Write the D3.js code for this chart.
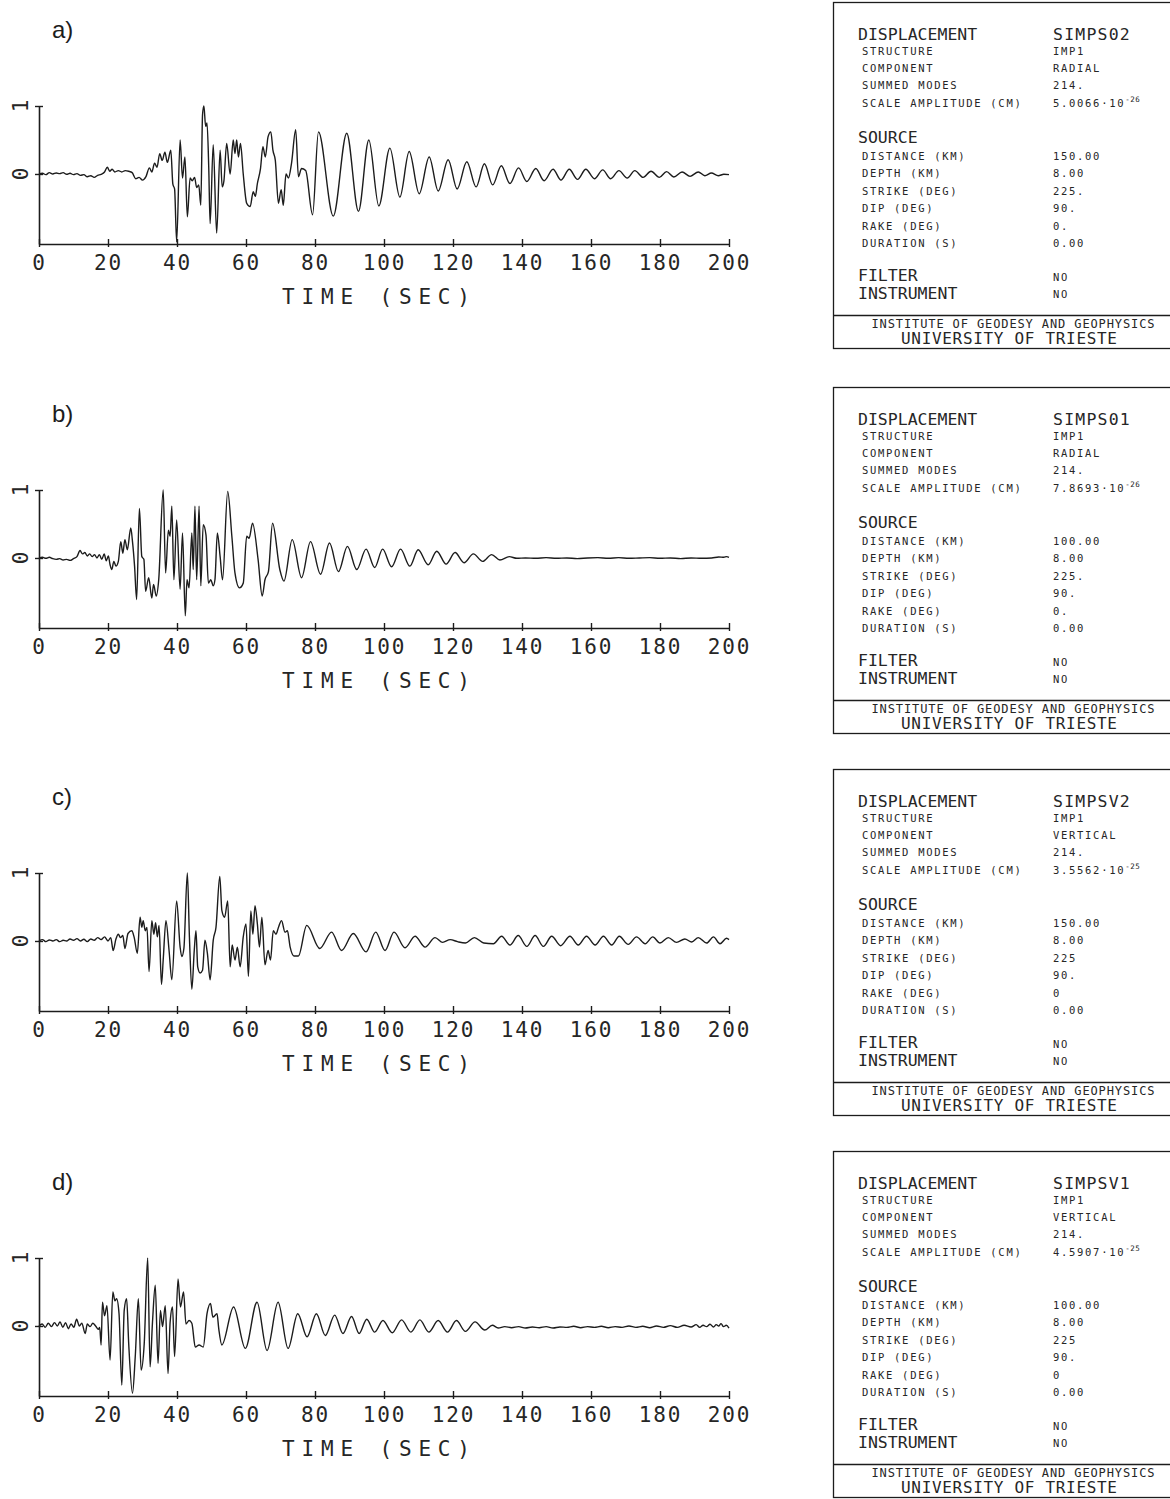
<!DOCTYPE html>
<html>
<head>
<meta charset="utf-8">
<script src="https://cdn.jsdelivr.net/npm/d3@7/dist/d3.min.js"></script>
<style>
  html, body { margin: 0; padding: 0; background: #fff; }
  svg { display: block; }
</style>
</head>
<body>
<div id="chart"></div>
<script>
// time axis (s) and panel labels
const xTicks = [0, 20, 40, 60, 80, 100, 120, 140, 160, 180, 200];
const yTicks = [0, 1];
const panelLabels = ['a)', 'b)', 'c)', 'd)'];

// seismogram turning points: [time (s), normalised amplitude]
const traceA = [
  [0,0],[1,0.01],[2,-0.01],[3,0.02],[4,0],[5,0.015],[6,0.005],[7,0.02],[8,-0.005],[9,0.01],
  [10,-0.01],[11,0.005],[12,-0.02],[13,-0.01],[14,-0.04],[15,-0.025],[16,-0.05],[17,-0.02],[18,-0.005],[19,0.03],
  [19.8,0.1],[20.5,0.04],[21.2,0.07],[22,0.03],[23,0.05],[24,0.03],[25,0.05],[26,0.04],[27,0.02],[28,-0.07],
  [29,-0.05],[30,-0.09],[31,-0.04],[32,0.09],[32.7,0.03],[33.5,0.16],[34.2,0.1],[35,0.3],[35.7,0.2],[36.5,0.32],
  [37.2,0.17],[38.2,0.35],[38.8,-0.15],[39.3,-0.22],[39.9,-1.0],[40.9,0.5],[41.6,-0.06],[42.3,0.25],[43,-0.63],[43.8,-0.06],
  [44.4,-0.1],[45.1,-0.05],[45.7,-0.2],[46.3,-0.16],[46.9,-0.46],[47.4,0.87],[47.8,1.0],[48.3,0.7],[48.7,0.75],[49.2,0.1],
  [49.6,-0.73],[50.5,0.43],[51.5,-0.87],[52.5,0.35],[53.1,-0.19],[53.6,-0.1],[54.4,0.45],[55.4,0.0],[56.3,0.5],[56.8,0.3],
  [57.3,0.5],[57.8,0.25],[58.4,0.45],[59.2,0.0],[60.2,-0.43],[61.2,-0.48],[62.1,-0.26],[62.7,-0.33],[63.3,-0.14],[64.2,0.08],
  [64.9,0.4],[65.6,0.25],[66.4,0.55],[67.2,0.62],[67.8,0.35],[68.5,0.2],[69.4,-0.43],[70.2,-0.23],[70.8,-0.46],[71.6,0.0],
  [72.3,-0.06],[73.2,0.16],[74.4,0.65],[75.2,-0.04],[76.1,0.08],[77.3,0.05],[79.3,-0.6],[81.0,0.62],[85.3,-0.62],[89.2,0.6],
  [92.6,-0.55],[95.6,0.5],[98.5,-0.47],[101.7,0.38],[104.6,-0.34],[107.3,0.33],[110.2,-0.29],[113.1,0.25],[115.7,-0.25],[118.6,0.21],
  [121.2,-0.22],[124.0,0.18],[126.7,-0.19],[129.1,0.15],[131.5,-0.16],[134.0,0.12],[136.5,-0.14],[139.0,0.09],[141.4,-0.11],[144.0,0.08],
  [146.4,-0.1],[149.0,0.07],[151.3,-0.09],[153.7,0.07],[156.1,-0.08],[158.5,0.07],[161.0,-0.07],[163.4,0.06],[165.7,-0.07],[168.1,0.05],
  [170.5,-0.06],[172.7,0.05],[175.1,-0.05],[177.4,0.04],[179.8,-0.05],[181.9,0.035],[184.0,-0.045],[186.4,0.03],[188.7,-0.035],[191.1,0.03],
  [193.0,-0.025],[194.9,0.015],[196.9,-0.025],[198.5,-0.005],[200,-0.01]
];

const traceB = [
  [0,0],[1,0.01],[2,-0.005],[3,0.01],[4,-0.01],[5,-0.02],[6,-0.01],[7,-0.03],[8,-0.02],[9,-0.035],
  [10,-0.01],[11,0.02],[11.9,0.11],[12.6,0.06],[13.3,0.08],[14,0.03],[14.7,0.06],[15.4,0.02],[16.1,0.05],[16.8,0.0],
  [17.5,0.05],[18.2,-0.02],[18.9,0.06],[19.5,-0.04],[20.1,0.03],[20.6,-0.1],[21.1,-0.17],[21.7,-0.05],[22.3,-0.12],[23,-0.05],
  [23.7,0.24],[24.3,0.07],[24.9,0.27],[25.6,0.12],[26.6,0.44],[27.1,0.24],[27.7,-0.12],[28.3,-0.61],[29.1,0.73],[29.8,0.02],
  [30.4,-0.02],[30.9,-0.49],[31.8,-0.29],[32.7,-0.59],[33.2,-0.39],[34.0,-0.56],[34.7,-0.32],[36.0,1.0],[36.7,-0.22],[37.5,0.41],
  [38.0,0.32],[38.5,0.76],[39.1,-0.32],[39.9,0.56],[40.9,-0.46],[41.6,0.37],[42.4,-0.85],[42.9,-0.32],[43.5,-0.44],[44.3,0.37],
  [44.7,-0.17],[45.2,0.76],[45.7,-0.32],[46.4,0.76],[46.9,-0.41],[47.6,0.49],[48.4,0.34],[49.1,-0.37],[49.8,-0.32],[50.5,-0.41],
  [51.0,-0.32],[51.7,0.37],[52.5,0.02],[53.2,-0.32],[54.7,0.98],[55.9,0.32],[56.8,-0.22],[58.1,-0.44],[59.2,-0.37],[60.2,0.32],
  [60.9,0.29],[61.9,0.51],[63.5,-0.02],[64.7,-0.56],[65.5,-0.32],[66.5,-0.2],[67.7,0.51],[69.8,-0.17],[71.0,-0.34],[73.4,0.27],
  [76.1,-0.29],[78.7,0.24],[81.6,-0.24],[84.2,0.22],[86.8,-0.2],[89.4,0.17],[92.1,-0.17],[94.8,0.13],[97.3,-0.14],[99.6,0.13],
  [102.2,-0.13],[104.8,0.13],[107.5,-0.12],[109.9,0.12],[112.8,-0.1],[115.3,0.1],[118.0,-0.09],[120.6,0.08],[123.2,-0.07],[125.9,0.06],
  [128.6,-0.05],[131.2,0.05],[133.6,-0.03],[136.3,0.02],[138.5,-0.005],[141,0.0],[144,-0.005],[147,0.005],[150,-0.005],[153,0.0],
  [156,-0.01],[159,0.0],[162,0.005],[165,-0.005],[168,0.005],[171,-0.005],[174,0.0],[177,0.005],[180,-0.005],[183,0.0],
  [186,-0.01],[189,0.0],[192,-0.005],[195,0.0],[197,0.015],[198.5,0.01],[199.3,0.02],[200,0.01]
];

const traceC = [
  [0,0],[1,0.02],[2,-0.01],[3,0.015],[4,0.0],[5,0.02],[6,-0.01],[7,0.01],[8,0.0],[9,0.03],
  [10,0.01],[11,0.035],[12,0.0],[13,0.025],[14,-0.01],[15,0.03],[16,0.01],[17,0.05],[18,0.02],[19,0.06],
  [20,0.0],[20.8,0.05],[21.5,-0.14],[22.3,0.03],[23.0,0.1],[23.6,0.05],[24.3,0.08],[24.9,-0.11],[25.8,0.11],[26.9,0.15],
  [27.6,0.05],[28.5,-0.18],[29.3,0.35],[29.8,0.2],[30.2,0.3],[30.8,0.15],[31.3,0.2],[31.9,-0.45],[32.7,0.3],[33.3,0.1],
  [33.8,0.27],[34.3,0.06],[34.8,0.23],[35.5,-0.64],[36.0,-0.28],[36.8,0.3],[37.7,-0.14],[38.5,-0.57],[39.9,0.59],[40.9,-0.09],
  [41.4,-0.23],[42.0,-0.11],[43.0,1.0],[43.6,0.06],[44.3,-0.71],[45.0,-0.14],[45.5,0.15],[46.0,-0.38],[46.7,-0.47],[47.4,-0.43],
  [48.1,0.01],[48.8,-0.18],[49.6,-0.57],[50.5,0.01],[51.3,0.2],[52.4,0.95],[53.0,0.45],[53.8,0.35],[54.7,0.59],[55.4,-0.38],
  [56.0,-0.06],[56.8,-0.28],[57.5,-0.09],[58.3,-0.38],[59.2,0.06],[60.0,0.25],[60.7,-0.52],[61.4,0.44],[62.0,0.1],[62.6,0.52],
  [63.3,0.25],[63.9,-0.09],[64.6,0.35],[65.5,-0.35],[66.4,-0.14],[67.1,-0.28],[67.9,0.15],[68.7,0.1],[69.4,0.2],[70.3,0.3],
  [71.3,0.13],[72.0,0.15],[72.8,-0.09],[73.9,-0.22],[75.2,-0.22],[77.6,0.23],[81.4,-0.11],[84.8,0.13],[87.7,-0.14],[91.1,0.11],
  [94.8,-0.16],[97.6,0.13],[100.3,-0.14],[102.9,0.13],[106.1,-0.1],[109.0,0.07],[111.9,-0.09],[114.8,0.05],[117.0,-0.02],[119.2,0.02],
  [121.3,-0.01],[123.6,-0.03],[126.2,0.05],[128.9,-0.03],[131.7,-0.04],[134.1,0.07],[136.5,-0.06],[138.9,0.08],[141.4,-0.08],[143.8,0.08],
  [146.2,-0.08],[148.6,0.07],[151.2,-0.07],[153.9,0.07],[156.3,-0.06],[158.7,0.07],[161.2,-0.06],[163.6,0.07],[166.0,-0.06],[168.2,0.07],
  [170.8,-0.05],[173.2,0.06],[175.7,-0.04],[177.9,0.06],[180.0,-0.03],[182.4,0.05],[184.8,-0.02],[187.2,0.03],[189.2,-0.015],[191.1,0.05],
  [193.5,-0.03],[195.5,0.06],[197.4,-0.04],[199.3,0.04],[200,0.02]
];

const traceD = [
  [0,0],[0.9,0.03],[1.8,-0.02],[2.7,0.04],[3.6,-0.01],[4.5,0.05],[5.3,0.0],[6.1,0.06],[6.9,-0.02],[7.7,0.05],
  [8.5,-0.04],[9.3,0.03],[10.1,-0.02],[10.9,0.1],[11.7,0.0],[12.4,0.04],[13.4,-0.11],[14.0,0.03],[14.8,-0.01],[15.6,0.04],
  [16.4,0.0],[17.2,-0.05],[17.6,-0.02],[18.0,-0.28],[18.4,0.35],[19.0,0.15],[19.7,0.3],[20.6,-0.5],[21.4,0.5],[22.0,0.37],
  [22.5,0.4],[23.2,0.18],[24.0,-0.87],[24.7,0.23],[25.4,0.4],[26.0,-0.26],[27.1,-0.99],[27.9,-0.45],[28.8,0.4],[29.6,-0.65],
  [30.5,-0.26],[31.5,1.0],[32.2,-0.6],[32.9,0.06],[33.7,0.6],[34.5,-0.55],[35.2,0.23],[35.8,-0.01],[36.6,0.3],[37.4,-0.7],
  [38.0,0.05],[38.7,0.28],[39.3,-0.45],[40.3,0.69],[41.0,0.28],[41.9,0.5],[42.6,0.03],[43.5,0.08],[44.3,0.04],[45.3,-0.31],
  [46.4,-0.28],[47.6,-0.31],[48.7,0.18],[49.7,0.33],[50.4,0.13],[51.6,0.18],[52.1,-0.04],[53.0,-0.28],[56.4,0.28],[59.8,-0.33],
  [63.2,0.35],[66.1,-0.36],[69.3,0.35],[72.2,-0.33],[75.0,0.18],[77.7,-0.16],[80.4,0.18],[83.0,-0.14],[85.7,0.16],[88.1,-0.11],
  [90.6,0.14],[92.8,-0.11],[95.0,0.1],[97.3,-0.09],[99.7,0.08],[102.4,-0.1],[105.1,0.09],[107.8,-0.09],[110.4,0.09],[113.0,-0.09],
  [115.7,0.08],[118.4,-0.09],[121.0,0.08],[123.6,-0.08],[126.4,0.06],[129.2,-0.06],[131.4,0.01],[133.1,-0.03],[135,-0.01],[137,-0.025],
  [139,-0.01],[141,-0.03],[143,-0.015],[145,-0.025],[147,-0.01],[149,-0.03],[151,-0.015],[153,-0.02],[155,-0.005],[157,-0.025],
  [159,-0.01],[161,-0.02],[163,-0.005],[165,-0.025],[167,-0.01],[169,-0.02],[171,0.0],[173,-0.02],[175,-0.005],[177,-0.025],
  [179,0.0],[181,-0.02],[183,0.005],[185,-0.02],[187,0.01],[189,-0.015],[190.5,0.02],[191.5,-0.02],[192.5,0.01],[193.5,-0.01],
  [194.5,0.025],[195.5,-0.015],[196.3,0.02],[197,0.0],[197.7,0.035],[198.4,-0.01],[199.2,0.01],[200,-0.03]
];

const traces = [traceA, traceB, traceC, traceD];

// info box contents
const recordIds = ['SIMPS02', 'SIMPS01', 'SIMPSV2', 'SIMPSV1'];
const structures = ['IMP1', 'IMP1', 'IMP1', 'IMP1'];
const components = ['RADIAL', 'RADIAL', 'VERTICAL', 'VERTICAL'];
const summedModes = ['214.', '214.', '214.', '214.'];
const scaleMantissa = ['5.0066·10', '7.8693·10', '3.5562·10', '4.5907·10'];
const scaleExponent = ['-26', '-26', '-25', '-25'];
const distances = ['150.00', '100.00', '150.00', '100.00'];
const depths = ['8.00', '8.00', '8.00', '8.00'];
const strikes = ['225.', '225.', '225', '225'];
const dips = ['90.', '90.', '90.', '90.'];
const rakes = ['0.', '0.', '0', '0'];
const durations = ['0.00', '0.00', '0.00', '0.00'];
const filters = ['NO', 'NO', 'NO', 'NO'];
const instruments = ['NO', 'NO', 'NO', 'NO'];

const paramLabels = ['STRUCTURE', 'COMPONENT', 'SUMMED MODES', 'SCALE AMPLITUDE (CM)'];
const sourceLabels = ['DISTANCE (KM)', 'DEPTH (KM)', 'STRIKE (DEG)', 'DIP (DEG)', 'RAKE (DEG)', 'DURATION (S)'];

const width = 1170;
const height = 1499;
const panelOffsets = [0, 384, 767, 1152];
const boxOffsets = [0, 385, 767, 1149];
const mono = "'DejaVu Sans Mono', 'Liberation Mono', monospace";
const ink = '#1c1c1c';
const textInk = '#262626';

const svg = d3
  .select('#chart')
  .append('svg')
  .attr('width', width)
  .attr('height', height)
  .attr('viewBox', `0 0 ${width} ${height}`);

const x = d3.scaleLinear().domain([0, 200]).range([39, 729]);
const y = d3.scaleLinear().domain([-1.03, 1]).range([244, 106]);

const line = d3
  .line()
  .x((d) => x(d[0]))
  .y((d) => y(d[1]))
  .curve(d3.curveMonotoneX);

traces.forEach((trace, i) => {
  const g = svg.append('g').attr('transform', `translate(0,${panelOffsets[i]})`);

  // panel letter
  g.append('text')
    .attr('x', 52)
    .attr('y', 38)
    .attr('font-family', "'Liberation Sans', Arial, sans-serif")
    .attr('font-size', 24)
    .attr('fill', ink)
    .text(panelLabels[i]);

  // time axis
  const xAxis = g
    .append('g')
    .attr('transform', `translate(0,${y(-1.03)})`)
    .call(d3.axisBottom(x).tickValues(xTicks).tickSizeOuter(0).tickFormat(d3.format('d')));
  xAxis.select('.domain').attr('stroke', ink).attr('stroke-width', 1.6);
  xAxis.selectAll('.tick line').attr('y1', -5).attr('y2', 3).attr('stroke', ink).attr('stroke-width', 1.4);
  xAxis
    .selectAll('.tick text')
    .attr('y', 26)
    .attr('dy', null)
    .attr('font-family', mono)
    .attr('font-size', 21)
    .attr('letter-spacing', 1.9)
    .attr('fill', textInk);

  g.append('text')
    .attr('x', 376)
    .attr('y', 304)
    .attr('text-anchor', 'middle')
    .attr('font-family', mono)
    .attr('font-size', 21)
    .attr('textLength', 188)
    .attr('lengthAdjust', 'spacing')
    .attr('fill', textInk)
    .text('TIME (SEC)');

  // amplitude axis
  const yAxis = g
    .append('g')
    .attr('transform', `translate(${x(0)},0)`)
    .call(d3.axisLeft(y).tickValues(yTicks).tickSizeOuter(0).tickFormat(''));
  yAxis.select('.domain').attr('stroke', ink).attr('stroke-width', 1.6);
  yAxis.selectAll('.tick line').attr('x1', -4).attr('x2', 4).attr('stroke', ink).attr('stroke-width', 1.4);

  g.selectAll('.ylab')
    .data(yTicks)
    .enter()
    .append('text')
    .attr('class', 'ylab')
    .attr('transform', (d) => `translate(28,${y(d)}) rotate(-90)`)
    .attr('text-anchor', 'middle')
    .attr('font-family', mono)
    .attr('font-size', 21)
    .attr('fill', textInk)
    .text((d) => d);

  // waveform
  g.append('path')
    .datum(trace)
    .attr('fill', 'none')
    .attr('stroke', ink)
    .attr('stroke-width', 1.4)
    .attr('stroke-linejoin', 'round')
    .attr('d', line);

  // info box
  const box = svg.append('g').attr('transform', `translate(0,${boxOffsets[i]})`);
  box.append('rect')
    .attr('x', 833.5)
    .attr('y', 2.5)
    .attr('width', 400)
    .attr('height', 346)
    .attr('fill', 'none')
    .attr('stroke', ink)
    .attr('stroke-width', 1.3);
  box.append('line')
    .attr('x1', 833.5)
    .attr('x2', 1233)
    .attr('y1', 315.5)
    .attr('y2', 315.5)
    .attr('stroke', ink)
    .attr('stroke-width', 1.3);

  const big = (txt, xx, yy) =>
    box.append('text')
      .attr('x', xx)
      .attr('y', yy)
      .attr('font-family', mono)
      .attr('font-size', 16.5)
      .attr('fill', textInk)
      .text(txt);
  const small = (txt, xx, yy) =>
    box.append('text')
      .attr('x', xx)
      .attr('y', yy)
      .attr('font-family', mono)
      .attr('font-size', 10.5)
      .attr('letter-spacing', 1.7)
      .attr('fill', textInk)
      .text(txt);

  big('DISPLACEMENT', 858, 40);
  big(recordIds[i], 1053, 40).attr('letter-spacing', 1.2);

  const paramValues = [structures[i], components[i], summedModes[i], null];
  paramLabels.forEach((lab, k) => {
    const yy = 55 + k * 17.2;
    small(lab, 862, yy);
    if (paramValues[k] !== null) small(paramValues[k], 1053, yy);
  });
  const amp = small(scaleMantissa[i], 1053, 55 + 3 * 17.2);
  amp.append('tspan')
    .attr('dy', -5)
    .attr('font-size', 7.5)
    .attr('letter-spacing', 0.5)
    .text(scaleExponent[i]);

  big('SOURCE', 858, 143);
  const sourceValues = [distances[i], depths[i], strikes[i], dips[i], rakes[i], durations[i]];
  sourceLabels.forEach((lab, k) => {
    const yy = 160 + k * 17.4;
    small(lab, 862, yy);
    small(sourceValues[k], 1053, yy);
  });

  big('FILTER', 858, 281);
  big('INSTRUMENT', 858, 299);
  small(filters[i], 1053, 281);
  small(instruments[i], 1053, 298);

  box.append('text')
    .attr('x', 1013)
    .attr('y', 327.5)
    .attr('text-anchor', 'middle')
    .attr('font-family', mono)
    .attr('font-size', 12)
    .attr('textLength', 283)
    .attr('lengthAdjust', 'spacing')
    .attr('fill', textInk)
    .text('INSTITUTE OF GEODESY AND GEOPHYSICS');
  box.append('text')
    .attr('x', 1009)
    .attr('y', 344)
    .attr('text-anchor', 'middle')
    .attr('font-family', mono)
    .attr('font-size', 16)
    .attr('textLength', 216)
    .attr('lengthAdjust', 'spacing')
    .attr('fill', textInk)
    .text('UNIVERSITY OF TRIESTE');
});
</script>
</body>
</html>
